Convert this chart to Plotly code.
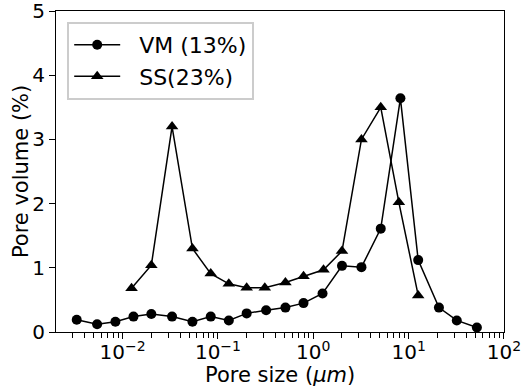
import plotly.graph_objects as go
import math

# Pore size distribution (mercury intrusion) for two samples
vm_size = [0.0033, 0.0054, 0.0084, 0.013, 0.020, 0.033, 0.054, 0.084, 0.13, 0.20, 0.32,
           0.51, 0.79, 1.25, 2.0, 3.2, 5.1, 8.2, 12.6, 20.8, 32, 52]
vm_vol = [0.19, 0.12, 0.16, 0.24, 0.28, 0.24, 0.16, 0.24, 0.18, 0.29, 0.34,
          0.38, 0.45, 0.60, 1.03, 1.01, 1.61, 3.64, 1.12, 0.38, 0.18, 0.07]

ss_size = [0.0124, 0.020, 0.033, 0.054, 0.084, 0.13, 0.20, 0.31,
           0.51, 0.79, 1.28, 2.0, 3.2, 5.1, 7.9, 12.6]
ss_vol = [0.68, 1.04, 3.2, 1.3, 0.91, 0.75, 0.69, 0.69,
          0.77, 0.87, 0.97, 1.26, 3.0, 3.5, 2.02, 0.57]

x_major = [0.01, 0.1, 1, 10, 100]
x_major_text = ["10<sup>−2</sup>", "10<sup>−1</sup>", "10<sup>0</sup>",
                "10<sup>1</sup>", "10<sup>2</sup>"]
y_ticks = [0, 1, 2, 3, 4, 5]

FONT = "DejaVu Sans"
X_RANGE = [math.log10(0.002), 2.0005]

# minor log ticks: 2..9 within each decade
x_minor = [m * 10.0 ** k for k in range(-3, 2) for m in range(2, 10)]
x_minor = [v for v in x_minor if 10 ** X_RANGE[0] <= v <= 10 ** X_RANGE[1]]

# legend labels get a small gap after the line sample
GAP = "\u00a0\u00a0"

fig = go.Figure()
fig.add_trace(go.Scatter(
    x=vm_size, y=vm_vol, name=GAP + "VM (13%)", mode="lines+markers",
    line=dict(color="black", width=1.5),
    marker=dict(symbol="circle", size=10, color="black"),
))
fig.add_trace(go.Scatter(
    x=ss_size, y=ss_vol, name=GAP + "SS(23%)", mode="lines+markers",
    line=dict(color="black", width=1.5),
    marker=dict(symbol="triangle-up", size=11, color="black"),
))

fig.update_layout(
    width=523, height=390,
    margin=dict(l=56, r=19, t=11, b=58),
    paper_bgcolor="white", plot_bgcolor="white",
    font=dict(family=FONT, size=20, color="black"),
    showlegend=True,
    legend=dict(
        x=0.025, y=0.966, xanchor="left", yanchor="top",
        font=dict(family=FONT, size=22, color="black"),
        bgcolor="white", bordercolor="#cccccc", borderwidth=2,
        tracegroupgap=0, itemwidth=46,
    ),
    xaxis=dict(
        type="log", range=X_RANGE,
        tickvals=x_major, ticktext=x_major_text,
        showline=True, linecolor="black", linewidth=1.2, mirror=True,
        ticks="outside", ticklen=6, tickwidth=1.2, tickcolor="black",
        minor=dict(tickmode="array", tickvals=x_minor, ticks="outside",
                   ticklen=5, tickwidth=1.1, tickcolor="black", showgrid=False),
        showgrid=False, zeroline=False, automargin=False,
        ticklabeloverflow="allow", ticklabelstandoff=-4,
        tickfont=dict(family=FONT, size=20),
    ),
    yaxis=dict(
        range=[0, 5], tickvals=y_ticks,
        showline=True, linecolor="black", linewidth=1.2, mirror=True,
        ticks="outside", ticklen=6, tickwidth=1.2, tickcolor="black",
        showgrid=False, zeroline=False, automargin=False,
        ticklabeloverflow="allow",
        tickfont=dict(family=FONT, size=20),
    ),
    annotations=[
        dict(text="Pore size (<i>μm</i>)", xref="paper", yref="paper",
             x=0.5, y=-0.135, xanchor="center", yanchor="middle",
             showarrow=False, font=dict(family=FONT, size=21)),
        dict(text="Pore volume (%)", xref="paper", yref="paper",
             x=-0.079, y=0.5, xanchor="center", yanchor="middle",
             textangle=-90, showarrow=False, font=dict(family=FONT, size=21)),
    ],
)

fig.write_html("out.html")
